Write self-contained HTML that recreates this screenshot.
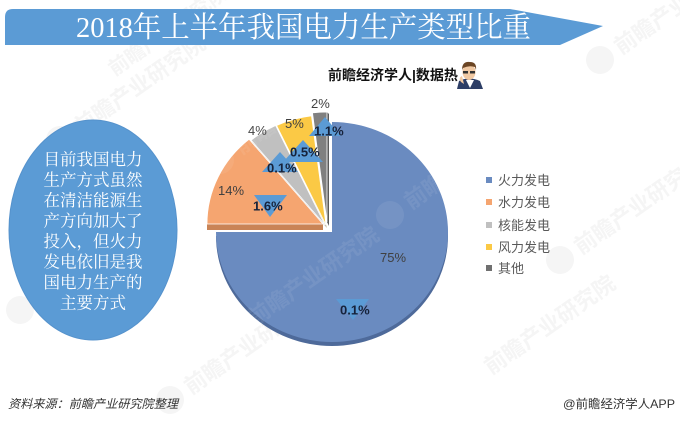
<!DOCTYPE html>
<html>
<head>
<meta charset="utf-8">
<style>
  html,body{margin:0;padding:0;background:#fff;}
  body{width:680px;height:421px;overflow:hidden;}
  svg{display:block;}
  .wm{font-family:"Liberation Sans","Noto Sans CJK SC",sans-serif;font-weight:bold;fill:#f1f1f1;}
</style>
</head>
<body>
<svg width="680" height="421" viewBox="0 0 680 421" xmlns="http://www.w3.org/2000/svg">
  <rect width="680" height="421" fill="#ffffff"/>

  <!-- watermarks (background) -->
  <g class="wm" opacity="0.7">
    <g transform="translate(60,140) rotate(-35)">
      <circle cx="0" cy="0" r="14" fill="#f1f1f1"/>
      <text x="20" y="8" font-size="22">前瞻产业研究院</text>
    </g>
    <g transform="translate(600,60) rotate(-35)">
      <circle cx="0" cy="0" r="14" fill="#f1f1f1"/>
      <text x="20" y="8" font-size="22">前瞻产业研究院</text>
    </g>
    <g transform="translate(560,260) rotate(-35)">
      <circle cx="0" cy="0" r="14" fill="#f1f1f1"/>
      <text x="20" y="8" font-size="22">前瞻产业研究院</text>
    </g>
    <g transform="translate(470,380) rotate(-35)">
      <text x="20" y="8" font-size="22">前瞻产业研究院</text>
    </g>
    <g transform="translate(20,310) rotate(-35)">
      <circle cx="0" cy="0" r="14" fill="#f1f1f1"/>
      <text x="20" y="8" font-size="22">前瞻产业研究院</text>
    </g>
    <g transform="translate(170,400) rotate(-35)">
      <circle cx="0" cy="0" r="14" fill="#f1f1f1"/>
      <text x="20" y="8" font-size="22">前瞻产业研究院</text>
    </g>
    <g transform="translate(110,70) rotate(-35)">
      <text x="0" y="8" font-size="20">前瞻产业研究院</text>
    </g>
  </g>

  <!-- title banner -->
  <path d="M5,17 Q5,9 13,9 L510,9 L603,26 L560,45 L5,45 Z" fill="#5b9bd5"/>
  <text x="76" y="37" font-family="'Liberation Serif','Noto Serif CJK SC',serif" font-size="29" fill="#ffffff" textLength="455" lengthAdjust="spacingAndGlyphs">2018年上半年我国电力生产类型比重</text>

  <!-- left ellipse -->
  <ellipse cx="93" cy="230" rx="84" ry="110" fill="#5b9bd5" stroke="#5592cc" stroke-width="1"/>
  <g font-family="'Liberation Serif','Noto Serif CJK SC',serif" font-size="16.5" fill="#ffffff" text-anchor="middle">
    <text x="93" y="165">目前我国电力</text>
    <text x="93" y="185.5">生产方式虽然</text>
    <text x="93" y="206">在清洁能源生</text>
    <text x="93" y="226.5">产方向加大了</text>
    <text x="93" y="247">投入，但火力</text>
    <text x="93" y="267.5">发电依旧是我</text>
    <text x="93" y="288">国电力生产的</text>
    <text x="93" y="308.5">主要方式</text>
  </g>

  <!-- header label -->
  <text x="328" y="80" font-family="'Liberation Sans','Noto Sans CJK SC',sans-serif" font-size="14" font-weight="bold" fill="#111111">前瞻经济学人|数据热</text>
  <!-- avatar icon -->
  <g>
    <path d="M457,89 L459,81 Q469,76 480,81 L483,89 Z" fill="#2d3e66"/>
    <path d="M466,80 L470,88 L474,80 Z" fill="#ffffff"/>
    <ellipse cx="469" cy="72" rx="6.5" ry="8" fill="#f1c9a3"/>
    <path d="M462,70 Q462,61 470,62 Q477,62 476,70 L475,67 Q469,65 463,68 Z" fill="#6b4524"/>
    <rect x="463" y="71" width="5" height="2.5" fill="#333"/>
    <rect x="470" y="71" width="5" height="2.5" fill="#333"/>
    <path d="M461,82 Q458,78 462,76 L464,84 Z" fill="#f1c9a3"/>
  </g>

  <!-- pie: blue depth -->
  <path d="M332,236 L332,126 A116,110 0 1,1 216,236 Z" fill="#4e6a9a"/>
  <!-- blue slice -->
  <path d="M332,232 L332,122 A116,110 0 1,1 216,232 Z" fill="#6a8bc0"/>

  <!-- orange slab + slice -->
  <path d="M207,224 L323,224 L323,230 L207,230 Z" fill="#c98456"/>
  <path d="M323,224 L207,224 A116,110 0 0,1 249.1,139.2 Z" fill="#f5a570" stroke="#ffffff" stroke-width="0.8"/>
  <!-- gray side + slice -->
  <path d="M251.1,140.2 L325,225 L327,228 L253,143 Z" fill="#7f7f7f"/>
  <path d="M325,225 L251.1,140.2 A116,110 0 0,1 275.6,125.5 Z" fill="#c0c0c0" stroke="#ffffff" stroke-width="0.8"/>
  <!-- yellow side + slice -->
  <path d="M276.6,125.5 L326,225 L327,228 L278,128 Z" fill="#a98a2c"/>
  <path d="M326,225 L276.6,125.5 A116,110 0 0,1 311.5,115.9 Z" fill="#fbc945" stroke="#ffffff" stroke-width="0.8"/>
  <!-- dark gray side + slice -->
  <path d="M327,222 L327,112 L329,114 L329,226 Z" fill="#5a5a5a"/>
  <path d="M327,222 L312.5,112.9 A116,110 0 0,1 327,112 Z" fill="#808080" stroke="#ffffff" stroke-width="0.8"/>

  <!-- data labels -->
  <g font-family="'Liberation Sans',sans-serif" font-size="13" fill="#404040">
    <text x="380" y="262">75%</text>
    <text x="218" y="195">14%</text>
    <text x="248" y="135">4%</text>
    <text x="285" y="128">5%</text>
    <text x="311" y="108">2%</text>
  </g>

  <!-- callout triangles -->
  <g fill="#5b9bd5">
    <polygon points="325,117 309,136 341,136"/>
    <polygon points="303,140 283,162 323,162"/>
    <polygon points="280,152 262,172 298,172"/>
    <polygon points="254,195 287,195 270,217"/>
    <polygon points="336,299 369,299 353,320"/>
  </g>
  <g font-family="'Liberation Sans',sans-serif" font-size="13" font-weight="bold" fill="#16223a">
    <text x="314" y="135.5">1.1%</text>
    <text x="290" y="156.5">0.5%</text>
    <text x="267" y="172.5">0.1%</text>
    <text x="253" y="210.5">1.6%</text>
    <text x="340" y="314.5">0.1%</text>
  </g>

  <!-- legend -->
  <g font-family="'Liberation Sans','Noto Sans CJK SC',sans-serif" font-size="13" fill="#595959">
    <rect x="486" y="177" width="6" height="6" fill="#6a8bc0"/>
    <text x="498" y="185">火力发电</text>
    <rect x="486" y="199" width="6" height="6" fill="#f5a570"/>
    <text x="498" y="207">水力发电</text>
    <rect x="486" y="222" width="6" height="6" fill="#c0c0c0"/>
    <text x="498" y="230">核能发电</text>
    <rect x="486" y="244" width="6" height="6" fill="#fbc945"/>
    <text x="498" y="252">风力发电</text>
    <rect x="486" y="265" width="6" height="6" fill="#707070"/>
    <text x="498" y="273">其他</text>
  </g>

  <!-- foreground faint watermarks over pie -->
  <g class="wm" opacity="0.07">
    <g transform="translate(220,160) rotate(-35)">
      <circle cx="0" cy="0" r="14" fill="#ffffff"/>
      <text x="20" y="8" font-size="22" fill="#ffffff">前瞻产业研究院</text>
    </g>
    <g transform="translate(390,215) rotate(-35)">
      <circle cx="0" cy="0" r="14" fill="#ffffff"/>
      <text x="20" y="8" font-size="22" fill="#ffffff">前瞻产业研究院</text>
    </g>
    <g transform="translate(250,320) rotate(-35)">
      <text x="0" y="8" font-size="22" fill="#ffffff">前瞻产业研究院</text>
    </g>
  </g>

  <!-- footer -->
  <text x="8" y="408" font-family="'Liberation Sans','Noto Sans CJK SC',sans-serif" font-size="12" font-style="italic" fill="#333333" textLength="170" lengthAdjust="spacingAndGlyphs">资料来源：前瞻产业研究院整理</text>
  <text x="563" y="408" font-family="'Liberation Sans','Noto Sans CJK SC',sans-serif" font-size="12" fill="#333333" textLength="112" lengthAdjust="spacingAndGlyphs">@前瞻经济学人APP</text>
</svg>
</body>
</html>
